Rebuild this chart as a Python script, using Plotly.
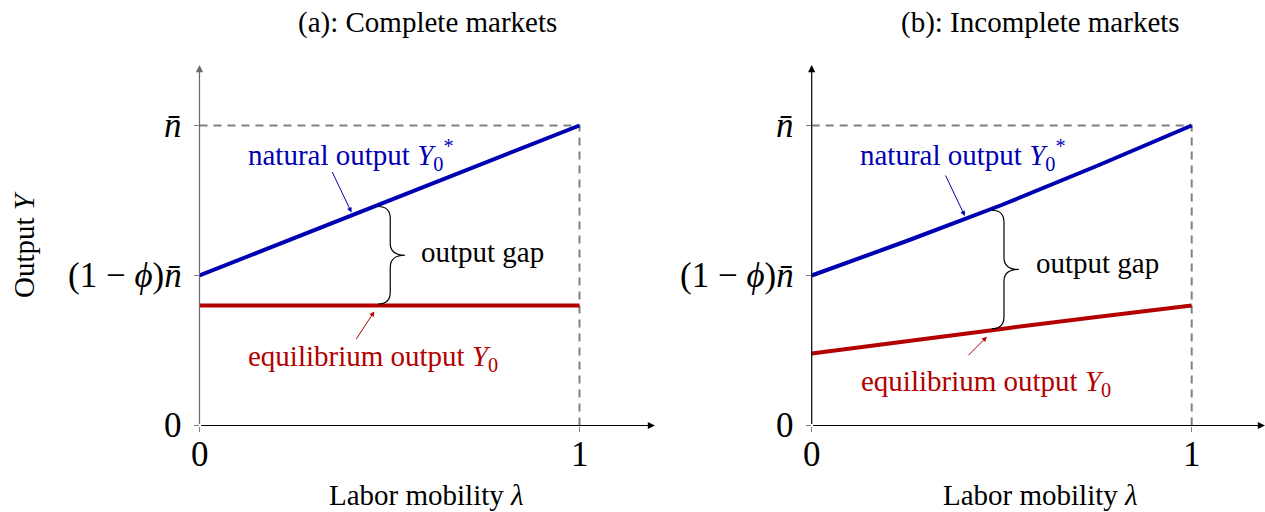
import numpy as np
import plotly.graph_objects as go

# ---------------- data ----------------
lam = [0.0, 0.25, 0.5, 0.75, 1.0]
natural_a = [0.5, 0.625, 0.75, 0.875, 1.0]
equil_a = [0.4, 0.4, 0.4, 0.4, 0.4]
natural_b = [0.5, 0.615, 0.735, 0.865, 1.0]
equil_b = [0.24, 0.282, 0.322, 0.362, 0.4]

ytick_vals = [0.0, 0.5, 1.0]
ytick_text = ["0", "(1 − <i>ϕ</i>)<i>n̄</i>", "<i>n̄</i>"]
xtick_vals = [0, 1]
xtick_text = ["0", "1"]

titles = ["(a): Complete markets", "(b): Incomplete markets"]
xlabel = "Labor mobility <i>λ</i>"
ylabel = "Output <i>Y</i>"
nat_label = "natural output <i>Y</i><sub>0</sub><sup>*</sup>"
eq_label = "equilibrium output <i>Y</i><sub>0</sub>"
gap_label = "output gap"

# ---------------- style ----------------
W, H = 1265, 512
BLUE = "#0000b3"
RED = "#b30000"
GRAY = "#808080"
FONT = "Liberation Serif"
TXT = 29
TICK = 35

# panel geometry in page pixels: (x of lambda=0, x of lambda=1, x of arrow end)
panels = [
    dict(x0=199.5, x1=579.5, xend=655.0, ax_color="#6a6a6a"),
    dict(x0=811.7, x1=1191.7, xend=1265.0, ax_color="#000000"),
]
Y0PX, Y1PX, YTOP = 425.5, 125.5, 65.0

fig = go.Figure()

def pxx(x):
    return x / W

def pxy(y):
    return 1 - y / H

series = [(natural_a, equil_a), (natural_b, equil_b)]
label_pos = [
    dict(nat=(0.399, 0.902), eq=(0.456, 0.225), gap=(0.746, 0.578),
         nat_head=0.40, eq_head=0.46, eq_tail=(-19, 29), brace=0.47),
    dict(nat=(0.398, 0.902), eq=(0.459, 0.142), gap=(0.751, 0.542),
         nat_head=0.403, eq_head=0.461, eq_tail=(-20, 20), brace=0.474),
]

for i, (p, (nat, eq), lp) in enumerate(zip(panels, series, label_pos)):
    k = "" if i == 0 else str(i + 1)
    xa, ya = "x" + k, "y" + k
    scale = p["x1"] - p["x0"]
    xmax = (p["xend"] - p["x0"]) / scale
    ymax = (Y0PX - YTOP) / (Y0PX - Y1PX)

    fig.layout["xaxis" + k] = dict(
        domain=[pxx(p["x0"]), min(1.0, pxx(p["xend"]))], range=[0, xmax],
        anchor=ya, showgrid=False, zeroline=False, showline=False, automargin=False,
        tickvals=xtick_vals, ticks="outside", ticklen=5, tickcolor=GRAY,
        showticklabels=False, fixedrange=True,
    )
    fig.layout["yaxis" + k] = dict(
        domain=[pxy(Y0PX), pxy(YTOP)], range=[0, ymax],
        anchor=xa, showgrid=False, zeroline=False, showline=False, automargin=False,
        tickvals=ytick_vals, ticks="outside", ticklen=5, tickcolor=GRAY,
        showticklabels=False, fixedrange=True,
    )

    # tick labels
    for v, t in zip(xtick_vals, xtick_text):
        fig.add_annotation(x=v, y=0, xref=xa, yref=ya, text=t, showarrow=False,
                           xanchor="center", yanchor="middle", yshift=-29,
                           font=dict(family=FONT, size=TICK, color="black"))
    for v, t in zip(ytick_vals, ytick_text):
        fig.add_annotation(x=0, y=v, xref=xa, yref=ya, text=t, showarrow=False,
                           xanchor="right", yanchor="middle", xshift=-16,
                           font=dict(family=FONT, size=TICK, color="black"))

    top = max(nat)
    # dashed guides
    fig.add_trace(go.Scatter(x=[0, lam[-1], lam[-1]], y=[top, top, 0], mode="lines",
                             line=dict(color=GRAY, width=2, dash="8px,6px"),
                             xaxis=xa, yaxis=ya, showlegend=False, hoverinfo="skip"))
    fig.add_trace(go.Scatter(x=lam, y=nat, mode="lines", line=dict(color=BLUE, width=4),
                             xaxis=xa, yaxis=ya, showlegend=False))
    fig.add_trace(go.Scatter(x=lam, y=eq, mode="lines", line=dict(color=RED, width=4),
                             xaxis=xa, yaxis=ya, showlegend=False))

    # axes with arrows
    fig.add_annotation(x=xmax, y=0, ax=0, ay=0, xref=xa, yref=ya, axref=xa, ayref=ya,
                       text="", showarrow=True, arrowhead=2, arrowsize=1.2,
                       arrowwidth=1.2, arrowcolor="black")
    fig.add_annotation(x=0, y=ymax, ax=0, ay=0, xref=xa, yref=ya, axref=xa, ayref=ya,
                       text="", showarrow=True, arrowhead=2, arrowsize=1.2,
                       arrowwidth=1.2, arrowcolor=p["ax_color"])

    # labels
    fig.add_annotation(x=lp["nat"][0], y=lp["nat"][1], xref=xa, yref=ya, text=nat_label,
                       showarrow=False, xanchor="center", yanchor="middle",
                       font=dict(family=FONT, size=TXT, color=BLUE))
    fig.add_annotation(x=lp["eq"][0], y=lp["eq"][1], xref=xa, yref=ya, text=eq_label,
                       showarrow=False, xanchor="center", yanchor="middle",
                       font=dict(family=FONT, size=TXT, color=RED))
    fig.add_annotation(x=lp["gap"][0], y=lp["gap"][1], xref=xa, yref=ya, text=gap_label,
                       showarrow=False, xanchor="center", yanchor="middle",
                       font=dict(family=FONT, size=TXT, color="black"))

    # pointer arrows
    hx = lp["nat_head"]
    fig.add_annotation(x=hx, y=float(np.interp(hx, lam, nat)) + 0.01, xref=xa, yref=ya,
                       ax=-20, ay=-42, text="", showarrow=True, arrowhead=2,
                       arrowsize=1, arrowwidth=1, arrowcolor=BLUE)
    hx = lp["eq_head"]
    fig.add_annotation(x=hx, y=float(np.interp(hx, lam, eq)) - 0.02, xref=xa, yref=ya,
                       ax=lp["eq_tail"][0], ay=lp["eq_tail"][1], text="", showarrow=True,
                       arrowhead=2, arrowsize=1, arrowwidth=1, arrowcolor=RED)

    # curly brace between the curves
    bx = lp["brace"]
    yt = float(np.interp(bx, lam, nat)) - 0.005
    yb = float(np.interp(bx, lam, eq)) + 0.005
    ym = (yt + yb) / 2
    a = 27 / scale
    d = 12 / (Y0PX - Y1PX)
    xm = bx + a * 0.45
    xt = bx + a
    path = (f"M {bx},{yt} Q {xm},{yt} {xm},{yt - d} L {xm},{ym + d} "
            f"Q {xm},{ym} {xt},{ym} Q {xm},{ym} {xm},{ym - d} "
            f"L {xm},{yb + d} Q {xm},{yb} {bx},{yb}")
    fig.add_shape(type="path", path=path, xref=xa, yref=ya,
                  line=dict(color="black", width=1.2))

    # titles and axis labels
    fig.add_annotation(x=pxx([427, 1040][i]), y=pxy(22), xref="paper", yref="paper",
                       text=titles[i], showarrow=False, xanchor="center", yanchor="middle",
                       font=dict(family=FONT, size=TXT, color="black"))
    fig.add_annotation(x=pxx([426, 1040][i]), y=pxy(495), xref="paper", yref="paper",
                       text=xlabel, showarrow=False, xanchor="center", yanchor="middle",
                       font=dict(family=FONT, size=TXT, color="black"))

fig.add_annotation(x=pxx(24), y=pxy(245), xref="paper", yref="paper", text=ylabel,
                   textangle=-90, showarrow=False, xanchor="center", yanchor="middle",
                   font=dict(family=FONT, size=TXT, color="black"))

fig.update_layout(template="none", width=W, height=H, margin=dict(l=0, r=0, t=0, b=0),
                  plot_bgcolor="white", paper_bgcolor="white", showlegend=False)

fig.write_html("out.html", config={"displayModeBar": False},
               post_script="document.body.style.margin='0';")
